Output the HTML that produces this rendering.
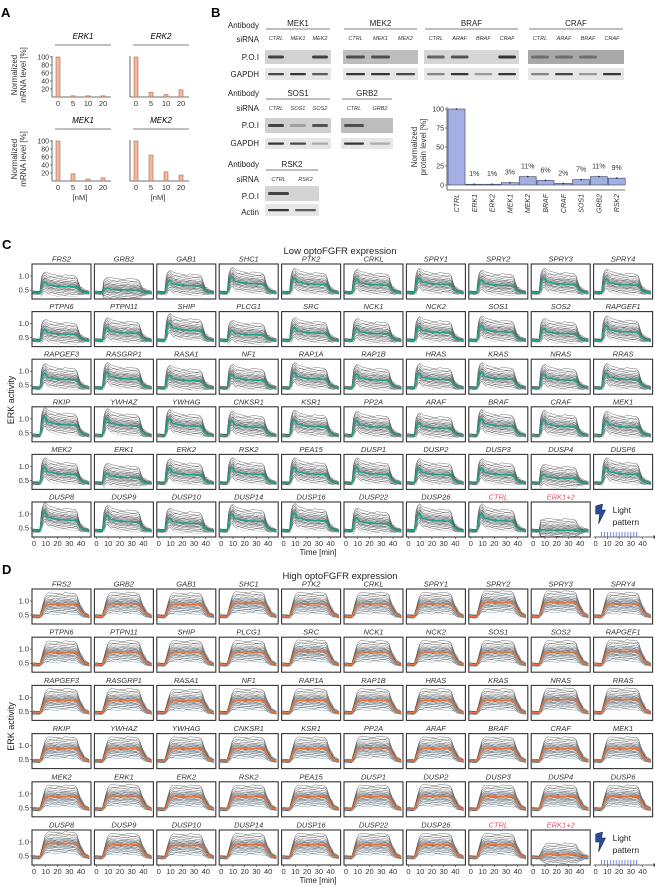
<!DOCTYPE html>
<html><head><meta charset="utf-8">
<style>
html,body{margin:0;padding:0;background:#fff;}
svg{display:block;font-family:"Liberation Sans",sans-serif;}
</style></head>
<body>
<svg id="fig" width="655" height="887" viewBox="0 0 655 887" xmlns="http://www.w3.org/2000/svg">
<g id="gA"></g>
<g id="gB"></g>
<g id="gC"></g>
<g id="gD"></g>
</svg>
<script>
// ---------- data ----------
const mrnaDoses = ["0","5","10","20"];
const mrnaGenes = ["ERK1","ERK2","MEK1","MEK2"];
const mrnaERK1 = [100,3,3,3];
const mrnaERK2 = [100,12,6,18];
const mrnaMEK1 = [100,18,5,8];
const mrnaMEK2 = [100,65,23,15];
const protCats = ["CTRL","ERK1","ERK2","MEK1","MEK2","BRAF","CRAF","SOS1","GRB2","RSK2"];
const protVals = [100,1,1,3,11,6,2,7,11,9];
const protLabels = ["","1%","1%","3%","11%","6%","2%","7%","11%","9%"];
const panelNames = ["FRS2","GRB2","GAB1","SHC1","PTK2","CRKL","SPRY1","SPRY2","SPRY3","SPRY4",
"PTPN6","PTPN11","SHIP","PLCG1","SRC","NCK1","NCK2","SOS1","SOS2","RAPGEF1",
"RAPGEF3","RASGRP1","RASA1","NF1","RAP1A","RAP1B","HRAS","KRAS","NRAS","RRAS",
"RKIP","YWHAZ","YWHAG","CNKSR1","KSR1","PP2A","ARAF","BRAF","CRAF","MEK1",
"MEK2","ERK1","ERK2","RSK2","PEA15","DUSP1","DUSP2","DUSP3","DUSP4","DUSP6",
"DUSP8","DUSP9","DUSP10","DUSP14","DUSP16","DUSP22","DUSP26","CTRL","ERK1+2"];
const meanC = [0.62,0.5,0.65,0.72,0.7,0.68,0.7,0.66,0.7,0.68,
0.62,0.66,0.75,0.6,0.66,0.64,0.68,0.7,0.64,0.7,
0.7,0.72,0.66,0.68,0.72,0.68,0.7,0.72,0.68,0.7,
0.78,0.75,0.74,0.7,0.72,0.7,0.66,0.74,0.72,0.7,
0.72,0.6,0.7,0.72,0.72,0.72,0.7,0.7,0.58,0.72,
0.78,0.72,0.66,0.74,0.76,0.66,0.75,0.75,0.42];
const meanD = [0.88,0.9,0.88,0.92,0.9,0.9,0.9,0.95,0.95,0.9,
0.88,0.9,0.9,0.9,0.92,0.9,0.9,0.9,0.9,0.92,
0.9,0.9,0.88,0.9,0.9,0.9,0.9,0.9,0.92,0.92,
0.9,0.9,0.9,0.9,0.9,0.92,0.9,0.9,0.9,0.9,
0.9,0.92,0.9,0.9,0.9,0.9,0.92,0.9,0.9,0.9,
0.95,0.9,0.88,0.9,0.9,0.9,0.9,0.9,0.55];
const timePts = [-1,5,7,9,12,20,30,36,39,43,47];
const profC = [0.4,0.4,0.72,0.85,0.72,0.67,0.65,0.65,0.48,0.42,0.4];
const profD = [0.45,0.45,0.62,0.85,0.92,0.92,0.92,0.92,0.7,0.5,0.45];
const traceOffsets = [-0.3,-0.25,-0.21,-0.18,-0.15,-0.12,-0.1,-0.08,-0.06,-0.04,-0.02,0,0.02,0.04,0.06,0.08,0.1,0.12,0.14,0.17,0.2,0.24,0.28,0.34,-0.14];
const timeTicks = [0,10,20,30,40];
const yTicks = [0.5,1.0];

// ---------- helpers ----------
const NS="http://www.w3.org/2000/svg";
function mk(parent,tag,attrs,txt){const e=document.createElementNS(NS,tag);for(const k in attrs)e.setAttribute(k,attrs[k]);if(txt!==undefined)e.textContent=txt;parent.appendChild(e);return e;}

// ---------- Panel A ----------
const gA=document.getElementById('gA');
const tA=mk(gA,'text',{x:1,y:17,'font-size':13,'font-weight':'bold'},'A');


const mrnaSets=[mrnaERK1,mrnaERK2,mrnaMEK1,mrnaMEK2];
const aPos=[[52,97],[130,97],[52,181],[130,181]];
for(let c=0;c<4;c++){
  const [ax,by]=aPos[c];
  const g=mk(gA,'g',{});
  
  
  const yv=v=>by-v*0.4;
  mk(g,'text',{x:ax+31,y:by-58,'font-size':8,'font-style':'italic','text-anchor':'middle'},mrnaGenes[c]);
  mk(g,'line',{x1:ax+3,x2:ax+59,y1:by-52,y2:by-52,stroke:'#555','stroke-width':0.8});
  mk(g,'line',{x1:ax,x2:ax,y1:yv(100)-1,y2:by,stroke:'#444','stroke-width':0.8});
  mk(g,'line',{x1:ax,x2:ax+59,y1:by,y2:by,stroke:'#444','stroke-width':0.8});
  if(c%2===0){
    [20,40,60,80,100].forEach(t=>{
      mk(g,'line',{x1:ax-2,x2:ax,y1:yv(t),y2:yv(t),stroke:'#444','stroke-width':0.7});
      mk(g,'text',{x:ax-3,y:yv(t)+2.5,'font-size':7,'text-anchor':'end',fill:'#333'},t);
    });
    const yl=mk(g,'text',{transform:`translate(${ax-35},${by-22}) rotate(-90)`,'font-size':8,'text-anchor':'middle',fill:'#333'});
    
    
    mk(yl,'tspan',{x:0,dy:0},'Normalized');
    mk(yl,'tspan',{x:0,dy:9},'mRNA level [%]');
  }
  mrnaSets[c].forEach((v,i)=>{
    const cx=ax+6+i*15;
    const b=mk(g,'rect',{x:cx-2,y:yv(v),width:4,height:Math.max(by-yv(v),1),fill:'#f3b89a',stroke:'#b06a50','stroke-width':0.6});
    
    
    mk(g,'text',{x:cx,y:by+9,'font-size':7.5,'text-anchor':'middle',fill:'#333'},mrnaDoses[i]);
  });
  if(c>=2) mk(g,'text',{x:ax+28,y:by+19,'font-size':7.5,'text-anchor':'middle',fill:'#333'},'[nM]');
}

// ---------- Panel B ----------
const gB=document.getElementById('gB');
const tB=mk(gB,'text',{x:211,y:17,'font-size':13,'font-weight':'bold'},'B');


function rowLabels(ys,labels){labels.forEach((l,i)=>mk(gB,'text',{x:259,y:ys[i],'font-size':8,'text-anchor':'end',fill:'#222'},l));}
rowLabels([28,42,60,77],['Antibody','siRNA','P.O.I','GAPDH']);
rowLabels([96,111,128,146],['Antibody','siRNA','P.O.I','GAPDH']);
rowLabels([167,182,199,215],['Antibody','siRNA','P.O.I','Actin']);
function blot(name,x,w,hy,lanes,poiY,poiH,ctlY,ctlH,poiBands,ctlBands,bg){
  const g=mk(gB,'g',{});
  
  
  mk(g,'text',{x:x+w/2,y:hy,'font-size':8,'text-anchor':'middle',fill:'#222'},name);
  mk(g,'line',{x1:x+1,x2:x+w-1,y1:hy+3,y2:hy+3,stroke:'#555','stroke-width':0.8});
  const lw=w/lanes.length;
  lanes.forEach((l,i)=>mk(g,'text',{x:x+lw*(i+0.5),y:hy+14,'font-size':5.5,'font-style':'italic','text-anchor':'middle',fill:'#333'},l));
  mk(g,'rect',{x:x,y:poiY,width:w,height:poiH,fill:bg||'#c4c4c4'});
  mk(g,'rect',{x:x,y:ctlY,width:w,height:ctlH,fill:'#e6e6e6'});
  poiBands.forEach((d,i)=>{if(d>0)mk(g,'rect',{x:x+lw*i+3,y:poiY+poiH/2-1.5,width:lw-6,height:3,rx:1.5,fill:'#333','fill-opacity':d});});
  ctlBands.forEach((d,i)=>{if(d>0)mk(g,'rect',{x:x+lw*i+3,y:ctlY+ctlH/2-1,width:lw-6,height:2.2,rx:1,fill:'#222','fill-opacity':d});});
}
blot('MEK1',265,66,26,['CTRL','MEK1','MEK2'],50,14,68,12,[0.9,0,0.9],[0.8,0.9,0.7],'#d2d2d2');
blot('MEK2',343,75,26,['CTRL','MEK1','MEK2'],50,14,68,12,[0.8,0.8,0],[0.9,0.9,0.8],'#bdbdbd');
blot('BRAF',424,95,26,['CTRL','ARAF','BRAF','CRAF'],50,14,68,12,[0.7,0.8,0,1],[0.5,0.9,0.4,0.9],'#d6d6d6');
blot('CRAF',528,96,26,['CTRL','ARAF','BRAF','CRAF'],50,14,68,12,[0.5,0.5,0.5,0],[0.5,0.8,0.4,0.9],'#a8a8a8');
blot('SOS1',265,66,96,['CTRL','SOS1','SOS2'],118,15,138,11,[0.9,0.3,0.8],[0.9,0.8,0.3],'#d0d0d0');
blot('GRB2',341,52,96,['CTRL','GRB2'],118,15,138,11,[0.8,0],[0.9,0.3],'#bdbdbd');
blot('RSK2',265,54,167,['CTRL','RSK2'],186,15,204,12,[0.9,0],[0.9,0.7],'#d4d4d4');

// protein bar chart
const gP=mk(gB,'g',{});


const pX0=447,pBase=185;
const pY=v=>pBase-v*0.76;
mk(gP,'line',{x1:pX0,x2:pX0,y1:pY(100)-2,y2:pBase+5,stroke:'#444','stroke-width':0.8});
mk(gP,'line',{x1:pX0,x2:625,y1:pBase+5,y2:pBase+5,stroke:'#444','stroke-width':0.8});
[0,25,50,75,100].forEach(t=>{
  mk(gP,'line',{x1:pX0-2,x2:pX0,y1:pY(t),y2:pY(t),stroke:'#444','stroke-width':0.7});
  mk(gP,'text',{x:pX0-3,y:pY(t)+2.5,'font-size':7,'text-anchor':'end',fill:'#333'},t);
});
const pyl=mk(gP,'text',{transform:`translate(${pX0-30},${pY(50)}) rotate(-90)`,'font-size':8,'text-anchor':'middle',fill:'#333'});


mk(pyl,'tspan',{x:0,dy:0},'Normalized');
mk(pyl,'tspan',{x:0,dy:9},'protein level [%]');
protCats.forEach((c,i)=>{
  const cx=456.5+i*17.8;
  const b=mk(gP,'rect',{x:cx-8.5,y:pY(protVals[i]),width:17,height:Math.max(pBase-pY(protVals[i]),0.8),fill:'#a3aee3',stroke:'#3a3f60','stroke-width':0.6});
  
  
  mk(gP,'circle',{cx:cx,cy:pY(protVals[i]),r:0.9,fill:'#333'});
  if(protLabels[i]) mk(gP,'text',{x:cx,y:pY(protVals[i])-8,'font-size':7,'text-anchor':'middle',fill:'#333'},protLabels[i]);
  mk(gP,'text',{transform:`translate(${cx+2.5},${pBase+9}) rotate(-90)`,'font-size':7,'font-style':'italic','text-anchor':'end',fill:'#333'},c);
});

// ---------- Panels C & D ----------
function interp(prof,t){
  for(let i=0;i<timePts.length-1;i++){if(t<=timePts[i+1]){const f=(t-timePts[i])/(timePts[i+1]-timePts[i]);return prof[i]+f*(prof[i+1]-prof[i]);}}
  return prof[prof.length-1];
}
function panel(gid,letter,title,top0,pitch,prof,means,meanColor,traceColor){
  const g=document.getElementById(gid);
  const L=mk(g,'text',{x:2,y:top0-15,'font-size':13,'font-weight':'bold'},letter);
  
  
  const T=mk(g,'text',{x:340,y:top0-10,'font-size':9.5,'text-anchor':'middle',fill:'#222'},title);
  
  
  const yl=mk(g,'text',{transform:`translate(14,${top0+2.5*pitch+17}) rotate(-90)`,'font-size':9,'text-anchor':'middle',fill:'#222'},'ERK activity');
  
  
  const bw=59,bh=35,bottomY=top0+5*pitch+bh;
  const tl=mk(g,'text',{x:318,y:bottomY+18,'font-size':8,'text-anchor':'middle',fill:'#222'},'Time [min]');
  
  
  const pBase=prof[0], pPlat=prof[6];
  for(let k=0;k<60;k++){
    const r=Math.floor(k/10),c=k%10;
    const bx=32+c*62.4,by=top0+r*pitch;
    const xs=t=>bx+2+t*1.175;
    const ys=v=>by+12+(1.0-v)*28;
    if(k<59){
      const pg=mk(g,'g',{});
      
      
      const isRed=(panelNames[k]==='CTRL'||panelNames[k]==='ERK1+2');
      mk(pg,'text',{x:bx+bw/2,y:by-2.5,'font-size':7.5,'font-style':'italic','text-anchor':'middle',fill:isRed?'#e8506a':'#333'},panelNames[k]);
      mk(pg,'rect',{x:bx,y:by,width:bw,height:bh,fill:'#fff'});
      const scale=(means[k]-pBase)/(pPlat-pBase);
      const curve=(off,t)=>{const s=(interp(prof,t)-pBase)/(pPlat-pBase);return pBase+off*0.15+(s*scale)*(pPlat-pBase)+off*Math.min(Math.max(s,0),1);};
      const cid='clip'+gid+k;
      const cp=mk(pg,'clipPath',{id:cid});mk(cp,'rect',{x:bx,y:by,width:bw,height:bh});
      const lg=mk(pg,'g',{'clip-path':`url(#${cid})`});
      traceOffsets.forEach((o,j)=>{
        let d='';
        for(let t=-1;t<=47;t+=1.5){const v=curve(o,t)+((j*7+Math.round(t*3))%5-2)*0.012;d+=(d?'L':'M')+xs(t).toFixed(1)+','+ys(v).toFixed(1);}
        mk(lg,'path',{d:d,fill:'none',stroke:(j%6===0&&traceColor)?traceColor:(j%4===0?'#aaa':'#4a4a4a'),'stroke-width':0.5,'stroke-opacity':0.8});
      });
      let dm='';
      for(let t=-1;t<=47;t+=1){dm+=(dm?'L':'M')+xs(t).toFixed(1)+','+ys(curve(0,t)).toFixed(1);}
      const ml=mk(lg,'path',{d:dm,fill:'none',stroke:meanColor,'stroke-width':1.6});
      
      
      mk(pg,'rect',{x:bx,y:by,width:bw,height:bh,fill:'none',stroke:'#333','stroke-width':1.1});
    } else {
      const lp=mk(g,'g',{});
      
      
      mk(lp,'path',{d:`M${bx+2},${by+4} L${bx+9},${by+2} L${bx+8},${by+8} L${bx+12},${by+8} L${bx+5},${by+22} L${bx+6},${by+12} L${bx+2},${by+12} Z`,fill:'#2a4a9a',stroke:'#10204a','stroke-width':0.5});
      mk(lp,'text',{x:bx+19,y:by+11,'font-size':8.5,fill:'#222'},'Light');
      mk(lp,'text',{x:bx+19,y:by+23,'font-size':8.5,fill:'#222'},'pattern');
      mk(lp,'line',{x1:bx,x2:bx+60,y1:by+bh,y2:by+bh,stroke:'#333','stroke-width':0.8});
      mk(lp,'path',{d:`M${bx+60},${by+bh-2} L${bx+63},${by+bh} L${bx+60},${by+bh+2} Z`,fill:'#333'});
      for(let t=5;t<=35;t+=2.5){mk(lp,'line',{x1:xs(t),x2:xs(t),y1:by+bh-5,y2:by+bh-0.5,stroke:'#3a5ad0','stroke-width':0.7});}
    }
    if(r===5){
      timeTicks.forEach(t=>{
        mk(g,'line',{x1:xs(t),x2:xs(t),y1:by+bh,y2:by+bh+2,stroke:'#333','stroke-width':0.6});
        mk(g,'text',{x:xs(t),y:by+bh+9,'font-size':7.5,'text-anchor':'middle',fill:'#333'},t);
      });
    }
    if(c===0){
      yTicks.forEach(v=>{
        mk(g,'line',{x1:bx-2,x2:bx,y1:ys(v),y2:ys(v),stroke:'#333','stroke-width':0.6});
        mk(g,'text',{x:bx-3,y:ys(v)+2.5,'font-size':7.5,'text-anchor':'end',fill:'#333'},v.toFixed(1));
      });
    }
  }
}
panel('gC','C','Low optoFGFR expression',264,47.6,profC,meanC,'#1fa187',null);
panel('gD','D','High optoFGFR expression',589,48.2,profD,meanD,'#e8743b','#5a8fb8');
</script>
</body></html>
